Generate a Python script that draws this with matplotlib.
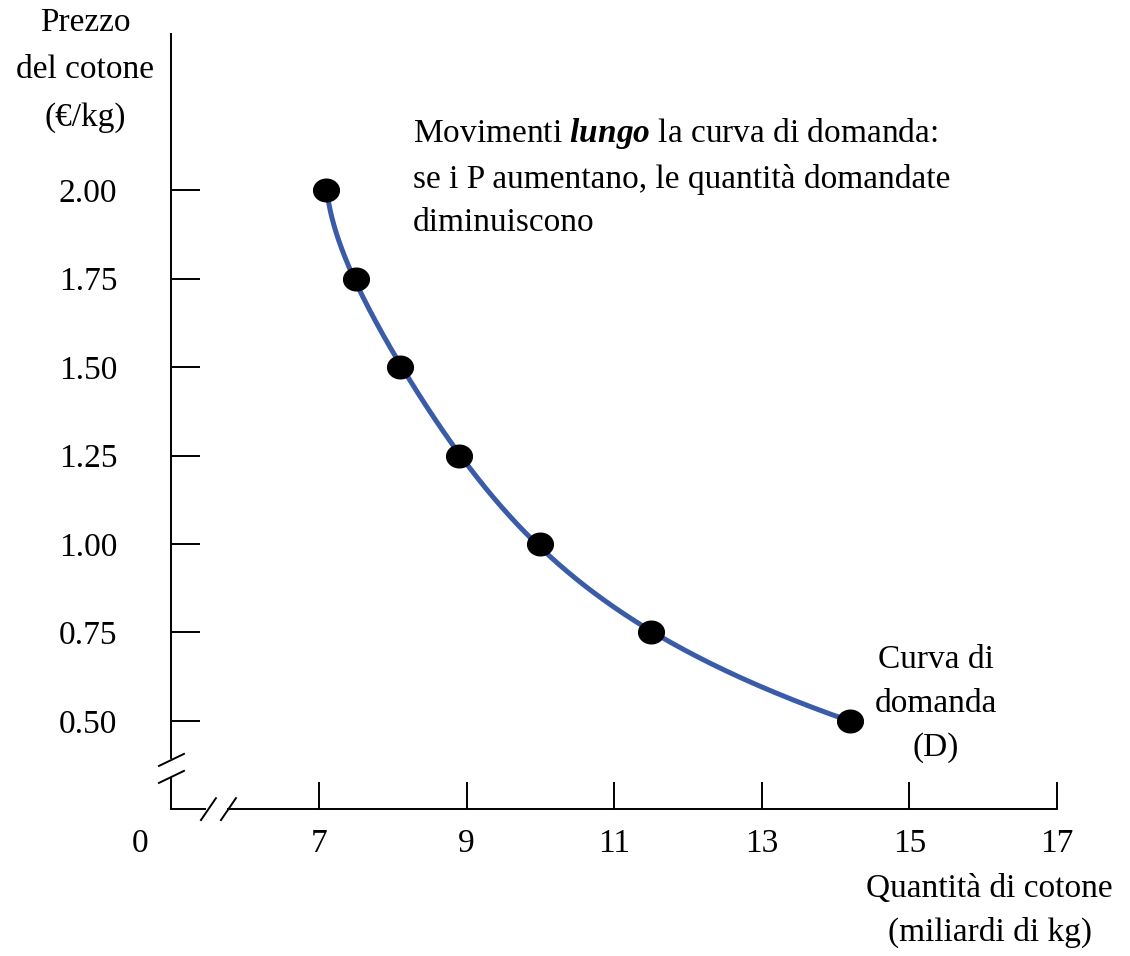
import matplotlib.pyplot as plt
import numpy as np
from matplotlib.path import Path

plt.rcParams['font.family'] = ['Liberation Serif', 'DejaVu Serif']
plt.rcParams['mathtext.fontset'] = 'custom'
plt.rcParams['mathtext.rm'] = 'Liberation Serif'
plt.rcParams['mathtext.bfit'] = 'Liberation Serif:italic:bold'

# demand schedule for cotton
quantity = [7.1, 7.5, 8.1, 8.9, 10.0, 11.5, 14.2]
price = [2.00, 1.75, 1.50, 1.25, 1.00, 0.75, 0.50]

x_ticks = [7, 9, 11, 13, 15, 17]
y_ticks = [0.50, 0.75, 1.00, 1.25, 1.50, 1.75, 2.00]
y_tick_labels = ["0.50", "0.75", "1.00", "1.25", "1.50", "1.75", "2.00"]

blue = "#3a5ca8"
fs = 24
ls = 1.55

fig = plt.figure(figsize=(11.3, 9.56), dpi=100)
ax = fig.add_axes([0, 0, 1, 1])
ax.set_xlim(2.678, 17.99)
ax.set_ylim(-0.164, 2.537)
ax.patch.set_alpha(0)

# axes with breaks
x0, y0 = 5.0, 0.25
ax.spines[['top', 'right']].set_visible(False)
ax.spines['left'].set_position(('data', x0))
ax.spines['left'].set_bounds(0.395, 2.44)
ax.spines['bottom'].set_position(('data', y0))
ax.spines['bottom'].set_bounds(5.767, 17)
for s in ['left', 'bottom']:
    ax.spines[s].set_linewidth(1.4)

kw = dict(color="black", lw=1.4, clip_on=False)
ax.plot([x0, x0], [y0, 0.339], **kw)
ax.plot([x0, 5.455], [y0, y0], **kw)
# break marks
ax.plot([4.832, 5.171], [0.373, 0.407], **kw)
ax.plot([4.832, 5.171], [0.325, 0.359], **kw)
ax.plot([5.401, 5.604], [0.220, 0.282], **kw)
ax.plot([5.672, 5.875], [0.220, 0.282], **kw)

ax.set_xticks(x_ticks)
ax.set_xticklabels([str(t) for t in x_ticks])
ax.set_yticks(y_ticks)
ax.set_yticklabels(y_tick_labels)
ax.tick_params(axis='y', direction='in', length=21, width=1.4, pad=39, labelsize=fs)
ax.tick_params(axis='x', direction='in', length=19.5, width=1.4, pad=14, labelsize=fs)
ax.annotate("0", xy=(4.575, y0), xytext=(0, -14), textcoords='offset points',
            ha='center', va='top', fontsize=fs)

# demand curve
pp = np.linspace(min(price), max(price), 300)
coef = np.polyfit(price, quantity, 4)
ax.plot(np.polyval(coef, pp), pp, color=blue, lw=3.6, solid_capstyle='round', zorder=3)

t = np.linspace(0, 2 * np.pi, 80)
ellipse = Path(np.column_stack([np.cos(t), 0.88 * np.sin(t)]))
ax.plot(quantity, price, linestyle='none', marker=ellipse, markersize=18.5,
        color="black", zorder=4, clip_on=False)

# labels
ax.text(3.83, 2.515, "Prezzo\ndel cotone\n(€/kg)", ha='center', va='top',
        fontsize=fs, linespacing=1.7)
ax.text(16.09, 0.07, "Quantità di cotone\n(miliardi di kg)", ha='center', va='top',
        fontsize=fs, linespacing=ls)
ax.text(15.36, 0.715, "Curva di\ndomanda\n(D)", ha='center', va='top',
        fontsize=fs, linespacing=ls)
ax.text(8.274, 2.21,
        "Movimenti $\\mathbfit{lungo}$ la curva di domanda:\n"
        "se i P aumentano, le quantità domandate\ndiminuiscono",
        ha='left', va='top', fontsize=fs, linespacing=ls)

fig.savefig("out.png", dpi=100)
